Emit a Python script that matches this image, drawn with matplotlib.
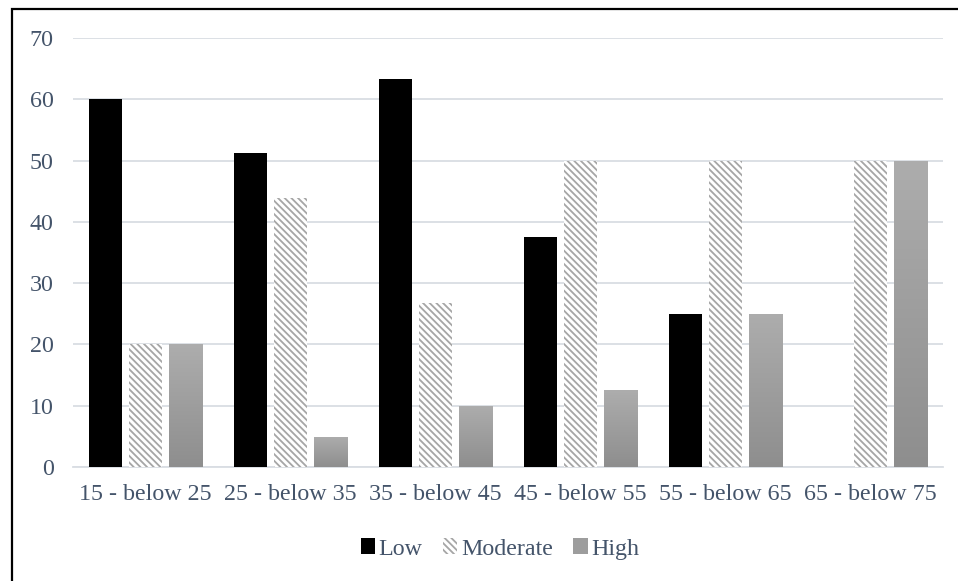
import numpy as np
import matplotlib
matplotlib.use("Agg")
import matplotlib.pyplot as plt
from matplotlib.patches import Rectangle, Patch
from matplotlib.colors import LinearSegmentedColormap

categories = ["15 - below 25", "25 - below 35", "35 - below 45",
              "45 - below 55", "55 - below 65", "65 - below 75"]
low = [60, 51.2, 63.3, 37.5, 25, 0]
moderate = [20, 43.9, 26.7, 50, 50, 50]
high = [20, 4.9, 10, 12.5, 25, 50]
yticks = [0, 10, 20, 30, 40, 50, 60, 70]

txt = "#44546A"
FONT = 'Liberation Serif'
FS = 17.3
plt.rcParams['font.family'] = 'serif'
plt.rcParams['font.serif'] = [FONT]
plt.rcParams['hatch.linewidth'] = 1.3
plt.rcParams['hatch.color'] = '#a6a6a6'

fig = plt.figure(figsize=(9.58, 5.81), dpi=100)
ax = fig.add_axes([73/958, 1-467/581, (943-73)/958, (467-38)/581])

x = np.arange(len(categories))
w = 0.234
step = 0.276
HATCH = '\\' * 5

ax.bar(x - step, low, w, color='black', linewidth=0, zorder=3)
ax.bar(x, moderate, w, color='white', edgecolor='#a6a6a6', hatch=HATCH, linewidth=0, zorder=3)
hb = ax.bar(x + step, high, w, color='#9d9d9d', linewidth=0, zorder=3)

grad = np.linspace(0, 1, 256).reshape(-1, 1)
cmap = LinearSegmentedColormap.from_list('g', ['#8e8e8e', '#adadad'])
for r in hb:
    x0, y0 = r.get_x(), r.get_y()
    ww, hh = r.get_width(), r.get_height()
    if hh <= 0:
        continue
    im = ax.imshow(grad, extent=[x0, x0 + ww, y0, y0 + hh], origin='lower',
                   cmap=cmap, aspect='auto', zorder=4, interpolation='bilinear')
    im.set_clip_path(r)

ax.set_xlim(-0.5, len(categories) - 0.5)
ax.set_ylim(0, 70)
ax.set_yticks(yticks)
ax.set_xticks(x)
ax.set_xticklabels(categories, family=FONT, fontsize=FS, color=txt)
ax.set_yticklabels([str(v) for v in yticks], family=FONT, fontsize=FS, color=txt)
ax.tick_params(axis='both', length=0)
ax.tick_params(axis='y', pad=14)
ax.tick_params(axis='x', pad=12)
ax.grid(axis='y', color='#d9dde3', linewidth=1.3, zorder=0)
for s in ['left', 'right', 'top']:
    ax.spines[s].set_visible(False)
ax.spines['bottom'].set_color('#d9dde3')
ax.spines['bottom'].set_linewidth(1.3)

handles = [Patch(facecolor='black', edgecolor='black', linewidth=0),
           Patch(facecolor='white', edgecolor='#a6a6a6', hatch=HATCH, linewidth=0),
           Patch(facecolor='#9d9d9d', linewidth=0)]
leg = fig.legend(handles, ['Low', 'Moderate', 'High'], loc='center',
                 bbox_to_anchor=(500/958, 1-549/581), ncol=3, frameon=False,
                 prop={'family': FONT, 'size': FS}, handlelength=0.6, handleheight=0.6,
                 handletextpad=0.15, columnspacing=0.85, labelcolor=txt)

# outer border (left and top visible)
fig.add_artist(Rectangle((11.5/958, -0.1), 1.2, 1 - 8.5/581 + 0.1,
                         transform=fig.transFigure, fill=False,
                         edgecolor='black', linewidth=1.6))

fig.savefig('out.png', dpi=100)
